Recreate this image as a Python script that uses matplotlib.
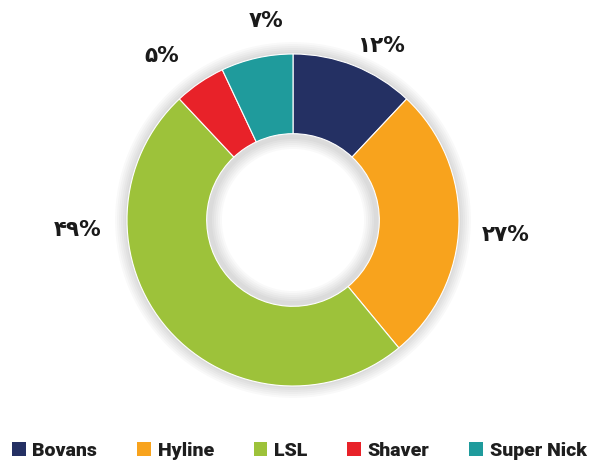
import matplotlib
matplotlib.use("Agg")
import matplotlib.pyplot as plt
from matplotlib.patches import Patch

# ---- data ----
breeds = ["Bovans", "Hyline", "LSL", "Shaver", "Super Nick"]
shares = [12, 27, 49, 5, 7]
share_labels = ["۱۲%", "۲۷%", "۴۹%", "۵%", "۷%"]
colors = ["#243063", "#F8A31D", "#9DC23A", "#E82229", "#1F9B9C"]

# label anchor points (pie data units, radius = 1)
label_xy = [(0.53, 1.05), (1.28, -0.09), (-1.30, -0.06), (-0.79, 0.99), (-0.16, 1.20)]

W, H = 589, 465
fig = plt.figure(figsize=(W / 100, H / 100), dpi=100)
fig.patch.set_facecolor("white")

cx, cy, half = 293, 220, 220          # pixel centre of donut, half size of axes
ax = fig.add_axes([(cx - half) / W, (H - cy - half) / H, 2 * half / W, 2 * half / H])
R = half / 166.0
ax.set_xlim(-R, R)
ax.set_ylim(-R, R)
ax.set_aspect("equal")
ax.axis("off")

# faint shadow around the ring
for k in range(6):
    ax.pie([1], radius=1.0 + 0.012 * (k + 1), colors=["#000000"],
           wedgeprops=dict(width=0.5 + 0.024 * (k + 1), alpha=0.025, linewidth=0),
           startangle=90)

ax.pie(shares, colors=colors, startangle=90, counterclock=False, radius=1.0,
       wedgeprops=dict(width=0.48, edgecolor="white", linewidth=0.8))
ax.set_xlim(-R, R)
ax.set_ylim(-R, R)

for txt, (x, y) in zip(share_labels, label_xy):
    ax.text(x, y, txt, ha="center", va="center", fontsize=15.5, fontweight="bold",
            color="#1a1a1a", family=["DejaVu Sans"])

handles = [Patch(facecolor=c, edgecolor="none") for c in colors]
leg = fig.legend(handles, breeds, loc="center", bbox_to_anchor=(0.508, 14 / H),
                 ncol=5, frameon=False, handlelength=0.7, handleheight=0.7,
                 handletextpad=0.35, columnspacing=2.05,
                 prop=dict(family="Roboto", weight="heavy", size=14))
for t in leg.get_texts():
    t.set_color("#1e1e1e")

fig.savefig("out.png", dpi=100, facecolor="white")
